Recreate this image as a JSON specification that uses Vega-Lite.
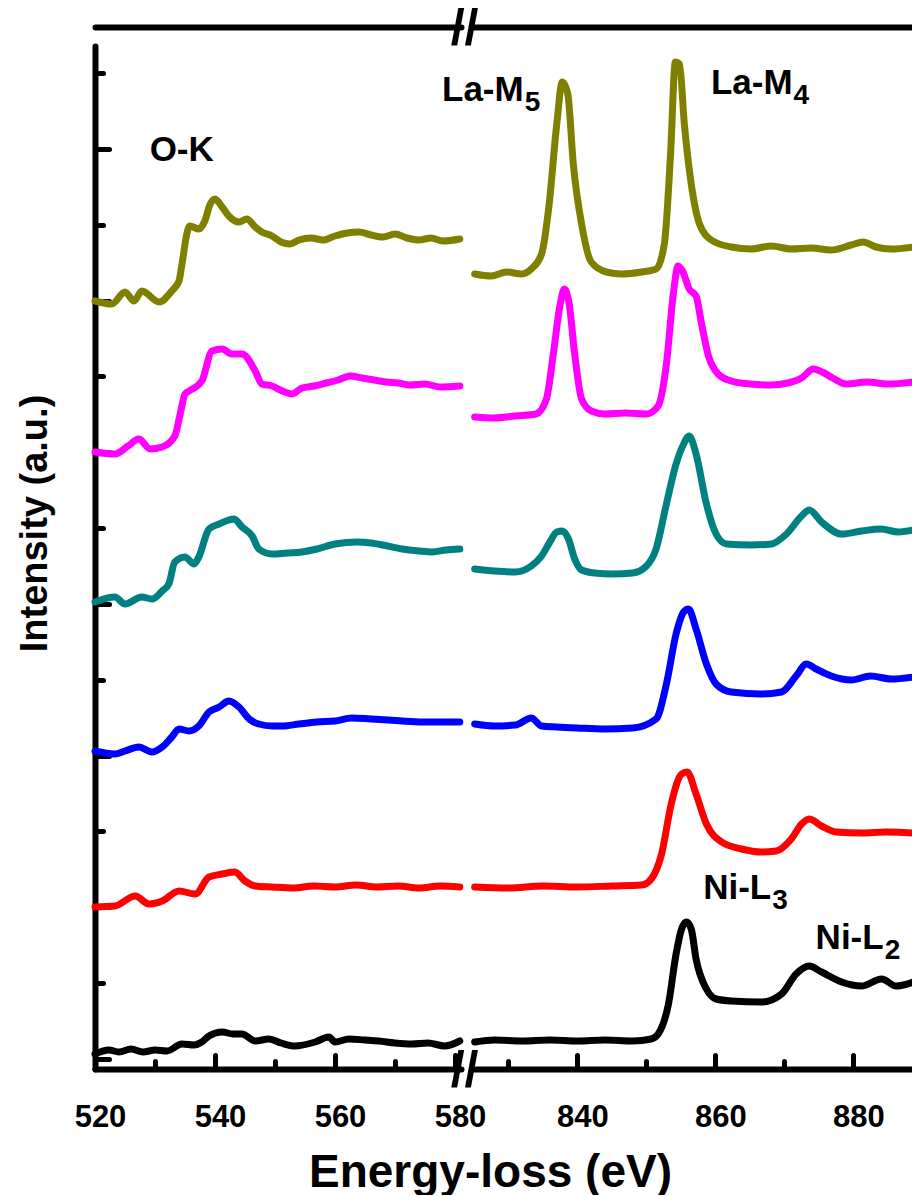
{
  "$schema": "https://vega.github.io/schema/vega-lite/v6.json",
  "background": "white",
  "padding": {"left": 16, "top": 4, "right": 0, "bottom": 0},
  "autosize": {"type": "pad"},
  "bounds": "flush",
  "spacing": 13,
  "config": {
    "font": "Liberation Sans",
    "view": {"stroke": null},
    "axis": {
      "domainColor": "black", "tickColor": "black", "labelColor": "black", "titleColor": "black",
      "labelFont": "Liberation Sans", "titleFont": "Liberation Sans",
      "labelFontWeight": "bold", "titleFontWeight": "bold", "labelFontSize": 31,
      "grid": false, "domainWidth": 6, "domainCap": "round", "tickWidth": 5, "tickCap": "round"
    },
    "text": {"font": "Liberation Sans", "fontWeight": "bold", "color": "black"}
  },
  "datasets": {
    "spectra": [
      {"s":"olive","p":"L","e":520,"i":768},{"s":"olive","p":"L","e":522.8,"i":765},{"s":"olive","p":"L","e":525,"i":777},{"s":"olive","p":"L","e":526.5,"i":768},{"s":"olive","p":"L","e":527.8,"i":778},{"s":"olive","p":"L","e":530.7,"i":767},{"s":"olive","p":"L","e":532.8,"i":778},{"s":"olive","p":"L","e":534,"i":788},{"s":"olive","p":"L","e":534.5,"i":805},{"s":"olive","p":"L","e":535.3,"i":835},{"s":"olive","p":"L","e":535.8,"i":843},{"s":"olive","p":"L","e":537.3,"i":840},{"s":"olive","p":"L","e":538.3,"i":848},{"s":"olive","p":"L","e":539.2,"i":865},{"s":"olive","p":"L","e":540,"i":870},{"s":"olive","p":"L","e":541.2,"i":862},{"s":"olive","p":"L","e":542.3,"i":853},{"s":"olive","p":"L","e":544,"i":847},{"s":"olive","p":"L","e":545.3,"i":850},{"s":"olive","p":"L","e":546.7,"i":842},{"s":"olive","p":"L","e":547.8,"i":837},{"s":"olive","p":"L","e":549.5,"i":833},{"s":"olive","p":"L","e":551,"i":827},{"s":"olive","p":"L","e":552.5,"i":825},{"s":"olive","p":"L","e":554,"i":829},{"s":"olive","p":"L","e":556,"i":831},{"s":"olive","p":"L","e":558,"i":829},{"s":"olive","p":"L","e":560,"i":833},{"s":"olive","p":"L","e":562,"i":836},{"s":"olive","p":"L","e":564,"i":837},{"s":"olive","p":"L","e":566,"i":834},{"s":"olive","p":"L","e":568,"i":832},{"s":"olive","p":"L","e":570,"i":835},{"s":"olive","p":"L","e":572,"i":831},{"s":"olive","p":"L","e":574,"i":829},{"s":"olive","p":"L","e":576,"i":831},{"s":"olive","p":"L","e":578,"i":828},{"s":"olive","p":"L","e":580.8,"i":830},
      {"s":"olive","p":"R","e":825.1,"i":795},{"s":"olive","p":"R","e":827.5,"i":793},{"s":"olive","p":"R","e":829.7,"i":797},{"s":"olive","p":"R","e":831.9,"i":795},{"s":"olive","p":"R","e":833.3,"i":800},{"s":"olive","p":"R","e":834.8,"i":815},{"s":"olive","p":"R","e":835.9,"i":865},{"s":"olive","p":"R","e":837,"i":945},{"s":"olive","p":"R","e":837.8,"i":987},{"s":"olive","p":"R","e":838.6,"i":975},{"s":"olive","p":"R","e":839.4,"i":905},{"s":"olive","p":"R","e":840.6,"i":845},{"s":"olive","p":"R","e":842,"i":807},{"s":"olive","p":"R","e":844.2,"i":797},{"s":"olive","p":"R","e":846.4,"i":795},{"s":"olive","p":"R","e":849.3,"i":797},{"s":"olive","p":"R","e":851.4,"i":800},{"s":"olive","p":"R","e":852.6,"i":825},{"s":"olive","p":"R","e":853.5,"i":915},{"s":"olive","p":"R","e":854.2,"i":1007},{"s":"olive","p":"R","e":854.8,"i":1005},{"s":"olive","p":"R","e":855.5,"i":945},{"s":"olive","p":"R","e":856.5,"i":885},{"s":"olive","p":"R","e":857.7,"i":845},{"s":"olive","p":"R","e":859.4,"i":829},{"s":"olive","p":"R","e":862.3,"i":822},{"s":"olive","p":"R","e":865.2,"i":820},{"s":"olive","p":"R","e":868.1,"i":823},{"s":"olive","p":"R","e":871,"i":820},{"s":"olive","p":"R","e":873.9,"i":821},{"s":"olive","p":"R","e":876.8,"i":819},{"s":"olive","p":"R","e":879.7,"i":824},{"s":"olive","p":"R","e":881.4,"i":827},{"s":"olive","p":"R","e":883.3,"i":822},{"s":"olive","p":"R","e":885.5,"i":820},{"s":"olive","p":"R","e":888.7,"i":822},
      {"s":"magenta","p":"L","e":520,"i":617},{"s":"magenta","p":"L","e":523.3,"i":615},{"s":"magenta","p":"L","e":525.5,"i":623},{"s":"magenta","p":"L","e":527.3,"i":630},{"s":"magenta","p":"L","e":529.2,"i":620},{"s":"magenta","p":"L","e":531.2,"i":622},{"s":"magenta","p":"L","e":533.3,"i":633},{"s":"magenta","p":"L","e":534.2,"i":655},{"s":"magenta","p":"L","e":535,"i":675},{"s":"magenta","p":"L","e":535.7,"i":678},{"s":"magenta","p":"L","e":537.8,"i":688},{"s":"magenta","p":"L","e":539.5,"i":718},{"s":"magenta","p":"L","e":541.2,"i":720},{"s":"magenta","p":"L","e":542.8,"i":715},{"s":"magenta","p":"L","e":544.5,"i":715},{"s":"magenta","p":"L","e":546.7,"i":698},{"s":"magenta","p":"L","e":547.8,"i":685},{"s":"magenta","p":"L","e":549.5,"i":683},{"s":"magenta","p":"L","e":551.2,"i":678},{"s":"magenta","p":"L","e":552.8,"i":675},{"s":"magenta","p":"L","e":554.5,"i":681},{"s":"magenta","p":"L","e":556.5,"i":683},{"s":"magenta","p":"L","e":558.5,"i":686},{"s":"magenta","p":"L","e":560.5,"i":689},{"s":"magenta","p":"L","e":562.5,"i":693},{"s":"magenta","p":"L","e":564.5,"i":691},{"s":"magenta","p":"L","e":566.5,"i":689},{"s":"magenta","p":"L","e":568.5,"i":687},{"s":"magenta","p":"L","e":570.5,"i":686},{"s":"magenta","p":"L","e":572.5,"i":684},{"s":"magenta","p":"L","e":575,"i":685},{"s":"magenta","p":"L","e":577.5,"i":682},{"s":"magenta","p":"L","e":580.8,"i":683},
      {"s":"magenta","p":"R","e":825.1,"i":652},{"s":"magenta","p":"R","e":828,"i":651},{"s":"magenta","p":"R","e":831,"i":653},{"s":"magenta","p":"R","e":834,"i":655},{"s":"magenta","p":"R","e":835.5,"i":670},{"s":"magenta","p":"R","e":836.5,"i":715},{"s":"magenta","p":"R","e":837.5,"i":765},{"s":"magenta","p":"R","e":838.1,"i":780},{"s":"magenta","p":"R","e":838.8,"i":765},{"s":"magenta","p":"R","e":839.6,"i":715},{"s":"magenta","p":"R","e":840.6,"i":670},{"s":"magenta","p":"R","e":842,"i":658},{"s":"magenta","p":"R","e":844,"i":655},{"s":"magenta","p":"R","e":847,"i":656},{"s":"magenta","p":"R","e":850,"i":655},{"s":"magenta","p":"R","e":851.7,"i":663},{"s":"magenta","p":"R","e":852.9,"i":705},{"s":"magenta","p":"R","e":853.9,"i":775},{"s":"magenta","p":"R","e":854.6,"i":803},{"s":"magenta","p":"R","e":855.3,"i":797},{"s":"magenta","p":"R","e":856.2,"i":780},{"s":"magenta","p":"R","e":857.2,"i":773},{"s":"magenta","p":"R","e":858,"i":745},{"s":"magenta","p":"R","e":859,"i":713},{"s":"magenta","p":"R","e":860.4,"i":695},{"s":"magenta","p":"R","e":862.3,"i":688},{"s":"magenta","p":"R","e":865,"i":685},{"s":"magenta","p":"R","e":868,"i":684},{"s":"magenta","p":"R","e":870.5,"i":686},{"s":"magenta","p":"R","e":872.5,"i":691},{"s":"magenta","p":"R","e":874.2,"i":700},{"s":"magenta","p":"R","e":875.5,"i":697},{"s":"magenta","p":"R","e":877,"i":691},{"s":"magenta","p":"R","e":879,"i":685},{"s":"magenta","p":"R","e":882,"i":687},{"s":"magenta","p":"R","e":885,"i":685},{"s":"magenta","p":"R","e":888.7,"i":687},
      {"s":"teal","p":"L","e":520,"i":467},{"s":"teal","p":"L","e":523.3,"i":472},{"s":"teal","p":"L","e":525,"i":465},{"s":"teal","p":"L","e":527.8,"i":472},{"s":"teal","p":"L","e":529.5,"i":470},{"s":"teal","p":"L","e":531.2,"i":478},{"s":"teal","p":"L","e":532.3,"i":485},{"s":"teal","p":"L","e":533.3,"i":507},{"s":"teal","p":"L","e":535,"i":512},{"s":"teal","p":"L","e":536.5,"i":505},{"s":"teal","p":"L","e":537.3,"i":512},{"s":"teal","p":"L","e":539,"i":540},{"s":"teal","p":"L","e":540.7,"i":545},{"s":"teal","p":"L","e":543.2,"i":550},{"s":"teal","p":"L","e":544.5,"i":542},{"s":"teal","p":"L","e":546.2,"i":533},{"s":"teal","p":"L","e":547.3,"i":520},{"s":"teal","p":"L","e":549.5,"i":515},{"s":"teal","p":"L","e":552,"i":516},{"s":"teal","p":"L","e":554.5,"i":517},{"s":"teal","p":"L","e":557,"i":520},{"s":"teal","p":"L","e":560,"i":525},{"s":"teal","p":"L","e":563.7,"i":527},{"s":"teal","p":"L","e":566,"i":526},{"s":"teal","p":"L","e":568,"i":524},{"s":"teal","p":"L","e":571.2,"i":520},{"s":"teal","p":"L","e":574,"i":518},{"s":"teal","p":"L","e":576.2,"i":517},{"s":"teal","p":"L","e":578.5,"i":519},{"s":"teal","p":"L","e":580.8,"i":520},
      {"s":"teal","p":"R","e":825.1,"i":500},{"s":"teal","p":"R","e":828,"i":498},{"s":"teal","p":"R","e":831,"i":497},{"s":"teal","p":"R","e":833.3,"i":503},{"s":"teal","p":"R","e":834.8,"i":513},{"s":"teal","p":"R","e":836,"i":527},{"s":"teal","p":"R","e":837,"i":537},{"s":"teal","p":"R","e":837.8,"i":538},{"s":"teal","p":"R","e":838.7,"i":530},{"s":"teal","p":"R","e":839.6,"i":510},{"s":"teal","p":"R","e":840.6,"i":499},{"s":"teal","p":"R","e":842.5,"i":496},{"s":"teal","p":"R","e":845,"i":495},{"s":"teal","p":"R","e":848,"i":496},{"s":"teal","p":"R","e":850,"i":503},{"s":"teal","p":"R","e":851.4,"i":520},{"s":"teal","p":"R","e":852.9,"i":565},{"s":"teal","p":"R","e":854.3,"i":605},{"s":"teal","p":"R","e":855.4,"i":625},{"s":"teal","p":"R","e":856.2,"i":633},{"s":"teal","p":"R","e":857.2,"i":615},{"s":"teal","p":"R","e":858.7,"i":565},{"s":"teal","p":"R","e":860.1,"i":535},{"s":"teal","p":"R","e":861.6,"i":525},{"s":"teal","p":"R","e":865.2,"i":524},{"s":"teal","p":"R","e":868.1,"i":525},{"s":"teal","p":"R","e":870.3,"i":535},{"s":"teal","p":"R","e":872.5,"i":553},{"s":"teal","p":"R","e":873.6,"i":559},{"s":"teal","p":"R","e":875.4,"i":547},{"s":"teal","p":"R","e":878.3,"i":535},{"s":"teal","p":"R","e":881.2,"i":538},{"s":"teal","p":"R","e":884,"i":540},{"s":"teal","p":"R","e":886.5,"i":537},{"s":"teal","p":"R","e":888.7,"i":539},
      {"s":"blue","p":"L","e":520,"i":318},{"s":"blue","p":"L","e":523.3,"i":315},{"s":"blue","p":"L","e":525,"i":318},{"s":"blue","p":"L","e":527.3,"i":322},{"s":"blue","p":"L","e":529.5,"i":317},{"s":"blue","p":"L","e":531.2,"i":322},{"s":"blue","p":"L","e":532.8,"i":332},{"s":"blue","p":"L","e":534,"i":340},{"s":"blue","p":"L","e":535.7,"i":338},{"s":"blue","p":"L","e":537.3,"i":343},{"s":"blue","p":"L","e":539,"i":357},{"s":"blue","p":"L","e":540.7,"i":362},{"s":"blue","p":"L","e":542.3,"i":368},{"s":"blue","p":"L","e":544,"i":362},{"s":"blue","p":"L","e":545.7,"i":350},{"s":"blue","p":"L","e":547.3,"i":345},{"s":"blue","p":"L","e":549.5,"i":343},{"s":"blue","p":"L","e":551.2,"i":343},{"s":"blue","p":"L","e":554,"i":345},{"s":"blue","p":"L","e":557,"i":347},{"s":"blue","p":"L","e":560,"i":348},{"s":"blue","p":"L","e":562.8,"i":351},{"s":"blue","p":"L","e":566,"i":350},{"s":"blue","p":"L","e":569,"i":349},{"s":"blue","p":"L","e":571.2,"i":348},{"s":"blue","p":"L","e":574.5,"i":347},{"s":"blue","p":"L","e":577.8,"i":347},{"s":"blue","p":"L","e":580.8,"i":347},
      {"s":"blue","p":"R","e":825.1,"i":345},{"s":"blue","p":"R","e":828,"i":343},{"s":"blue","p":"R","e":831,"i":344},{"s":"blue","p":"R","e":833.3,"i":351},{"s":"blue","p":"R","e":834.8,"i":343},{"s":"blue","p":"R","e":837,"i":342},{"s":"blue","p":"R","e":840,"i":341},{"s":"blue","p":"R","e":844,"i":340},{"s":"blue","p":"R","e":848,"i":341},{"s":"blue","p":"R","e":851.4,"i":350},{"s":"blue","p":"R","e":852.9,"i":385},{"s":"blue","p":"R","e":854.3,"i":435},{"s":"blue","p":"R","e":855.4,"i":457},{"s":"blue","p":"R","e":856.1,"i":460},{"s":"blue","p":"R","e":857.2,"i":440},{"s":"blue","p":"R","e":858.7,"i":405},{"s":"blue","p":"R","e":860.1,"i":385},{"s":"blue","p":"R","e":862.3,"i":377},{"s":"blue","p":"R","e":866.7,"i":375},{"s":"blue","p":"R","e":869.6,"i":377},{"s":"blue","p":"R","e":871.7,"i":393},{"s":"blue","p":"R","e":873.2,"i":405},{"s":"blue","p":"R","e":874.6,"i":400},{"s":"blue","p":"R","e":876.8,"i":393},{"s":"blue","p":"R","e":879.7,"i":389},{"s":"blue","p":"R","e":882.5,"i":393},{"s":"blue","p":"R","e":885.5,"i":390},{"s":"blue","p":"R","e":888.7,"i":392},
      {"s":"red","p":"L","e":520,"i":162},{"s":"red","p":"L","e":523.3,"i":163},{"s":"red","p":"L","e":526.7,"i":173},{"s":"red","p":"L","e":529,"i":165},{"s":"red","p":"L","e":531.2,"i":168},{"s":"red","p":"L","e":534,"i":178},{"s":"red","p":"L","e":536.7,"i":175},{"s":"red","p":"L","e":539,"i":192},{"s":"red","p":"L","e":541.2,"i":195},{"s":"red","p":"L","e":543.3,"i":197},{"s":"red","p":"L","e":545,"i":188},{"s":"red","p":"L","e":546.7,"i":183},{"s":"red","p":"L","e":549.5,"i":182},{"s":"red","p":"L","e":553,"i":181},{"s":"red","p":"L","e":556.5,"i":183},{"s":"red","p":"L","e":560,"i":182},{"s":"red","p":"L","e":563.5,"i":184},{"s":"red","p":"L","e":567,"i":182},{"s":"red","p":"L","e":570.5,"i":183},{"s":"red","p":"L","e":574,"i":181},{"s":"red","p":"L","e":577.5,"i":183},{"s":"red","p":"L","e":580.8,"i":182},
      {"s":"red","p":"R","e":825.1,"i":182},{"s":"red","p":"R","e":830,"i":181},{"s":"red","p":"R","e":835,"i":183},{"s":"red","p":"R","e":840,"i":182},{"s":"red","p":"R","e":845,"i":183},{"s":"red","p":"R","e":849.3,"i":184},{"s":"red","p":"R","e":850.7,"i":190},{"s":"red","p":"R","e":852.2,"i":215},{"s":"red","p":"R","e":853.6,"i":265},{"s":"red","p":"R","e":855.1,"i":295},{"s":"red","p":"R","e":855.9,"i":297},{"s":"red","p":"R","e":857.2,"i":275},{"s":"red","p":"R","e":858.7,"i":245},{"s":"red","p":"R","e":860.9,"i":227},{"s":"red","p":"R","e":863.8,"i":220},{"s":"red","p":"R","e":866.7,"i":217},{"s":"red","p":"R","e":868.8,"i":218},{"s":"red","p":"R","e":871,"i":230},{"s":"red","p":"R","e":872.5,"i":245},{"s":"red","p":"R","e":873.6,"i":250},{"s":"red","p":"R","e":875.4,"i":243},{"s":"red","p":"R","e":877.5,"i":237},{"s":"red","p":"R","e":881.2,"i":236},{"s":"red","p":"R","e":884.8,"i":237},{"s":"red","p":"R","e":888.7,"i":236},
      {"s":"black","p":"L","e":520,"i":15},{"s":"black","p":"L","e":522.3,"i":19},{"s":"black","p":"L","e":524,"i":17},{"s":"black","p":"L","e":526,"i":20},{"s":"black","p":"L","e":528,"i":17},{"s":"black","p":"L","e":530,"i":19},{"s":"black","p":"L","e":532,"i":18},{"s":"black","p":"L","e":534.5,"i":25},{"s":"black","p":"L","e":536.5,"i":24},{"s":"black","p":"L","e":537.8,"i":27},{"s":"black","p":"L","e":539,"i":33},{"s":"black","p":"L","e":541.2,"i":37},{"s":"black","p":"L","e":543,"i":35},{"s":"black","p":"L","e":544.5,"i":35},{"s":"black","p":"L","e":546.7,"i":28},{"s":"black","p":"L","e":549,"i":30},{"s":"black","p":"L","e":551,"i":26},{"s":"black","p":"L","e":553.3,"i":23},{"s":"black","p":"L","e":556.7,"i":27},{"s":"black","p":"L","e":559,"i":32},{"s":"black","p":"L","e":560,"i":27},{"s":"black","p":"L","e":562.3,"i":30},{"s":"black","p":"L","e":565,"i":29},{"s":"black","p":"L","e":567.3,"i":28},{"s":"black","p":"L","e":570,"i":26},{"s":"black","p":"L","e":572.8,"i":25},{"s":"black","p":"L","e":575.5,"i":26},{"s":"black","p":"L","e":578.3,"i":23},{"s":"black","p":"L","e":580.8,"i":28},
      {"s":"black","p":"R","e":825.1,"i":27},{"s":"black","p":"R","e":828,"i":29},{"s":"black","p":"R","e":832,"i":28},{"s":"black","p":"R","e":836,"i":29},{"s":"black","p":"R","e":840,"i":28},{"s":"black","p":"R","e":844,"i":29},{"s":"black","p":"R","e":848,"i":28},{"s":"black","p":"R","e":850.7,"i":30},{"s":"black","p":"R","e":851.7,"i":35},{"s":"black","p":"R","e":853.2,"i":65},{"s":"black","p":"R","e":854.3,"i":115},{"s":"black","p":"R","e":855.1,"i":140},{"s":"black","p":"R","e":855.8,"i":147},{"s":"black","p":"R","e":856.5,"i":140},{"s":"black","p":"R","e":857.2,"i":110},{"s":"black","p":"R","e":858.7,"i":80},{"s":"black","p":"R","e":860.1,"i":70},{"s":"black","p":"R","e":862.3,"i":68},{"s":"black","p":"R","e":866.7,"i":67},{"s":"black","p":"R","e":869.6,"i":75},{"s":"black","p":"R","e":871.7,"i":95},{"s":"black","p":"R","e":873.6,"i":103},{"s":"black","p":"R","e":875.4,"i":97},{"s":"black","p":"R","e":878.3,"i":87},{"s":"black","p":"R","e":881.2,"i":83},{"s":"black","p":"R","e":884.1,"i":90},{"s":"black","p":"R","e":886.2,"i":83},{"s":"black","p":"R","e":888.7,"i":87}
    ],
    "notes": [
      {"p":"L","e":539.8,"i":908,"t":"O-K","sub":""},
      {"p":"R","e":832.2,"i":968,"t":"La-M","sub":"5"},
      {"p":"R","e":871.2,"i":975,"t":"La-M","sub":"4"},
      {"p":"R","e":868.1,"i":170,"t":"Ni-L","sub":"3"},
      {"p":"R","e":884.4,"i":120,"t":"Ni-L","sub":"2"}
    ],
    "breaks": [
      {"e":581.6,"i":1040},
      {"e":581.6,"i":-2}
    ]
  },
  "hconcat": [
    {
      "width": 366,
      "height": 1023,
      "resolve": {"axis": {"x": "independent"}},
      "layer": [
        {
          "data": {"name": "spectra"},
          "transform": [{"filter": "datum.p == 'L'"}],
          "mark": {"type": "line", "strokeWidth": 7, "strokeJoin": "round", "strokeCap": "round", "interpolate": "monotone"},
          "encoding": {
            "x": {"field": "e", "type": "quantitative",
              "scale": {"domain": [520, 581], "nice": false, "zero": false},
              "axis": {"orient": "bottom", "values": [520,530,540,550,560,570,580],
                "labelExpr": "datum.value % 20 == 0 ? datum.label : ''",
                "tickSize": {"condition": {"test": "datum.value % 20 == 0", "value": -14}, "value": -8},
                "labelPadding": 47, "labelOffset": 5, "labelFlush": false, "labelOverlap": false, "labelBound": false,
                "title": "Energy-loss (eV)", "titleFontSize": 46, "titleX": 395, "titleY": 117, "titleBaseline": "alphabetic"}},
            "y": {"field": "i", "type": "quantitative",
              "scale": {"domain": [0, 1023], "nice": false, "zero": false},
              "axis": {"values": [10,85.9,161.7,237.6,313.4,389.3,465.1,541,616.8,692.7,768.5,844.4,920.2,996],
                "labels": false,
                "tickSize": {"condition": {"test": "indexof([10,161.7,313.4,465.1,616.8,768.5,920.2], datum.value) >= 0", "value": -14}, "value": -8},
                "title": "Intensity (a.u.)", "titleFontSize": 38, "titlePadding": 38, "titleY": 477}},
            "color": {"field": "s", "type": "nominal",
              "scale": {"domain": ["black","red","blue","teal","magenta","olive"], "range": ["#000000","#ff0000","#0000ff","#008080","#ff00ff","#808000"]},
              "legend": null}
          }
        },
        {
          "data": {"name": "breaks"},
          "mark": {"type": "text", "fontSize": 50, "fontWeight": "bold", "baseline": "middle", "align": "center"},
          "encoding": {
            "x": {"field": "e", "type": "quantitative", "scale": {"domain": [520, 581], "nice": false, "zero": false},
              "axis": {"orient": "top", "offset": 19, "labels": false, "ticks": false, "title": null}},
            "y": {"field": "i", "type": "quantitative", "scale": {"domain": [0, 1023], "nice": false, "zero": false}},
            "text": {"value": "//"}
          }
        },
        {
          "data": {"name": "notes"},
          "transform": [{"filter": "datum.p == 'L'"}],
          "mark": {"type": "text", "fontSize": 35, "fontWeight": "bold", "baseline": "alphabetic", "align": "right"},
          "encoding": {
            "x": {"field": "e", "type": "quantitative", "scale": {"domain": [520, 581], "nice": false, "zero": false}, "axis": null},
            "y": {"field": "i", "type": "quantitative", "scale": {"domain": [0, 1023], "nice": false, "zero": false}},
            "text": {"field": "t"}
          }
        }
      ]
    },
    {
      "width": 440,
      "height": 1023,
      "resolve": {"axis": {"x": "independent"}},
      "layer": [
        {
          "data": {"name": "spectra"},
          "transform": [{"filter": "datum.p == 'R'"}],
          "mark": {"type": "line", "strokeWidth": 7, "strokeJoin": "round", "strokeCap": "round", "interpolate": "monotone"},
          "encoding": {
            "x": {"field": "e", "type": "quantitative",
              "scale": {"domain": [825, 888.8], "nice": false, "zero": false},
              "axis": {"orient": "bottom", "values": [830,840,850,860,870,880],
                "labelExpr": "datum.value % 20 == 0 ? datum.label : ''",
                "tickSize": {"condition": {"test": "datum.value % 20 == 0", "value": -14}, "value": -8},
                "labelPadding": 47, "labelOffset": 5, "labelFlush": false, "labelOverlap": false, "labelBound": false,
                "title": null}},
            "y": {"field": "i", "type": "quantitative", "scale": {"domain": [0, 1023], "nice": false, "zero": false}, "axis": null},
            "color": {"field": "s", "type": "nominal",
              "scale": {"domain": ["black","red","blue","teal","magenta","olive"], "range": ["#000000","#ff0000","#0000ff","#008080","#ff00ff","#808000"]},
              "legend": null}
          }
        },
        {
          "data": {"name": "notes"},
          "transform": [{"filter": "datum.p == 'R'"}],
          "mark": {"type": "text", "fontSize": 35, "fontWeight": "bold", "baseline": "alphabetic", "align": "right"},
          "encoding": {
            "x": {"field": "e", "type": "quantitative", "scale": {"domain": [825, 888.8], "nice": false, "zero": false},
              "axis": {"orient": "top", "offset": 19, "labels": false, "ticks": false, "title": null}},
            "y": {"field": "i", "type": "quantitative", "scale": {"domain": [0, 1023], "nice": false, "zero": false}, "axis": null},
            "text": {"field": "t"}
          }
        },
        {
          "data": {"name": "notes"},
          "transform": [{"filter": "datum.p == 'R'"}],
          "mark": {"type": "text", "fontSize": 28, "fontWeight": "bold", "baseline": "alphabetic", "align": "left", "dx": 1, "dy": 10},
          "encoding": {
            "x": {"field": "e", "type": "quantitative", "scale": {"domain": [825, 888.8], "nice": false, "zero": false}, "axis": null},
            "y": {"field": "i", "type": "quantitative", "scale": {"domain": [0, 1023], "nice": false, "zero": false}, "axis": null},
            "text": {"field": "sub"}
          }
        }
      ]
    }
  ]
}
